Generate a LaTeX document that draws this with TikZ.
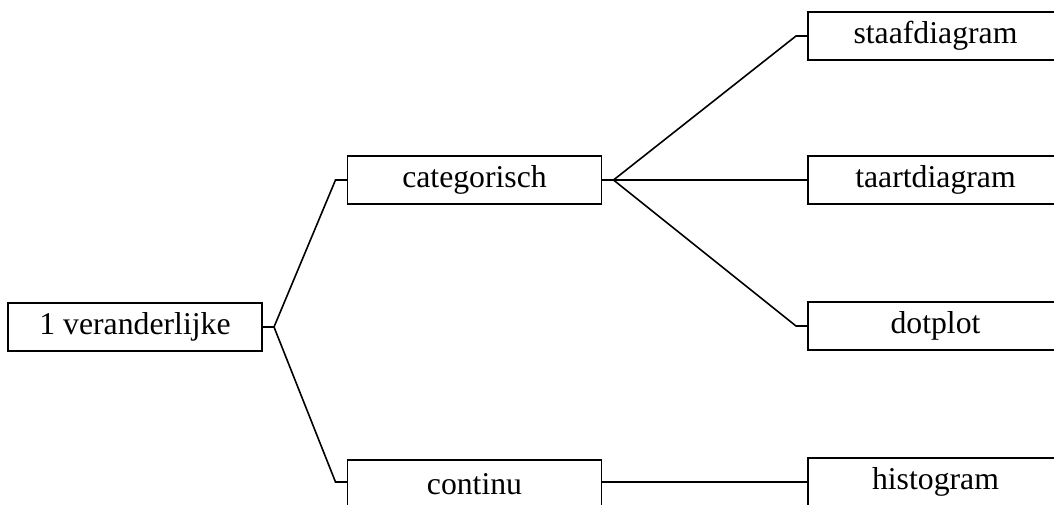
\documentclass[tikz,border=0pt]{standalone}
\usepackage{fontspec}
\setmainfont{Liberation Serif}
\usetikzlibrary{calc}
\begin{document}
\begin{tikzpicture}[x=0.75pt,y=-0.75pt,
  box/.style={draw,line width=1.3pt,minimum width=254*0.75pt,minimum height=48*0.75pt,
    inner sep=0pt,outer sep=0pt,font=\fontsize{23.8}{28}\selectfont},
  link/.style={line width=1.2pt,line join=miter}]
\useasboundingbox (0,0) rectangle (1054,504);
\clip (0,0) rectangle (1054,504);
\node[box] (A) at (135,327) {1 veranderlijke};
\node[box] (B) at (474.5,180) {categorisch};
\node[box] (C) at (474.5,484) {continu};
\node[box,minimum width=255*0.75pt] (D) at (935.5,36) {staafdiagram};
\node[box,minimum width=255*0.75pt] (E) at (935.5,180) {taartdiagram};
\node[box,minimum width=255*0.75pt] (F) at (935.5,326) {dotplot};
\node[box,minimum width=255*0.75pt] (G) at (935.5,482) {histogram};
\coordinate (A1) at ($(A.east)+(12,0)$);
\coordinate (B0) at ($(B.west)+(-12,0)$);
\coordinate (B1) at ($(B.east)+(12,0)$);
\coordinate (C0) at ($(C.west)+(-12,-2)$);
\coordinate (D0) at ($(D.west)+(-12,0)$);
\coordinate (E0) at ($(E.west)+(-12,0)$);
\coordinate (F0) at ($(F.west)+(-12,0)$);
\draw[link] (A.east) -- (A1) -- (B0) -- (B.west);
\draw[link] (A1) -- (C0) -- (C.west |- C0);
\draw[link] (B.east) -- (B1) -- (D0) -- (D.west);
\draw[link] (B1) -- (E0) -- (E.west);
\draw[link] (B1) -- (F0) -- (F.west);
\draw[link] (C.east |- G.west) -- (G.west);
\end{tikzpicture}
\end{document}
